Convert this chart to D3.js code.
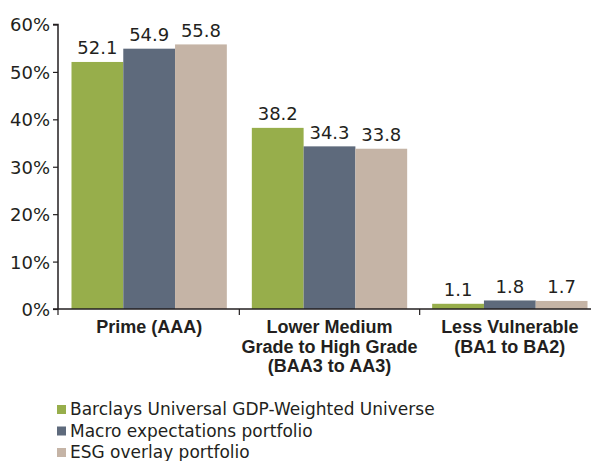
<!DOCTYPE html>
<html><head><meta charset="utf-8">
<script src="https://cdn.jsdelivr.net/npm/d3@7"></script>
<style>
html,body{margin:0;padding:0;background:#fff;}
svg{display:block;}
</style></head>
<body>
<svg id="chart" width="591" height="461"></svg>
<script>
const categories = [["Prime (AAA)"], ["Lower Medium","Grade to High Grade","(BAA3 to AA3)"], ["Less Vulnerable","(BA1 to BA2)"]];
const seriesNames = ["Barclays Universal GDP-Weighted Universe","Macro expectations portfolio","ESG overlay portfolio"];
const barclays = [52.1, 38.2, 1.1];
const macro = [54.9, 34.3, 1.8];
const esg = [55.8, 33.8, 1.7];
const yTicks = [0,10,20,30,40,50,60];
const colors = ["#97ae4b","#5e6a7c","#c5b4a6"];

(function(){
const seriesVals = [barclays, macro, esg];
const svg = d3.select("#chart");
const textColor = "#231f20";
const reg = "'DejaVu Sans', sans-serif";
const bold = "'Liberation Sans', Arial, sans-serif";

const pL = 58, pT = 24.5, pB = 309;
const catKeys = categories.map((c,i)=>i);
const x0 = d3.scaleBand().domain(catKeys).range([59, 600]).padding(0);
const x1 = d3.scaleBand().domain([0,1,2]).range([12.5, x0.bandwidth()-12.5]).padding(0);
const y = d3.scaleLinear().domain([0,60]).range([pB, pT]);

// bars
catKeys.forEach(ci=>{
  const g = svg.append("g").attr("transform",`translate(${x0(ci)},0)`);
  seriesVals.forEach((vals,si)=>{
    g.append("rect").attr("x",x1(si)).attr("y",y(vals[ci]))
      .attr("width",x1.bandwidth()).attr("height",y(0)-y(vals[ci]))
      .attr("fill",colors[si]);
    g.append("text").attr("x",x1(si)+x1.bandwidth()/2).attr("y",y(vals[ci])-7.5)
      .attr("text-anchor","middle").attr("font-family",reg).attr("font-size",18)
      .attr("fill",textColor).text(vals[ci].toFixed(1));
  });
});

// y axis
const yAxis = d3.axisLeft(y).tickValues(yTicks).tickSize(5).tickPadding(3).tickFormat(d=>d+"%");
const ya = svg.append("g").attr("transform",`translate(${pL},0)`).call(yAxis);
ya.select(".domain").attr("stroke","#231f20").attr("stroke-width",1.5).attr("d",`M-5,${pT}H0V${pB}`);
ya.selectAll(".tick line").attr("stroke","#231f20").attr("stroke-width",1.2);
ya.selectAll(".tick text").attr("font-family",reg).attr("font-size",18).attr("fill",textColor).attr("dy","0.36em");

// x axis baseline
svg.append("line").attr("x1",pL-5).attr("x2",591).attr("y1",pB).attr("y2",pB)
  .attr("stroke","#231f20").attr("stroke-width",1.5);
const bounds = [pL].concat(catKeys.slice(1).map(ci=>x0(ci)), [x0(catKeys[catKeys.length-1])+x0.bandwidth()]);
svg.selectAll(".xt").data(bounds).enter().append("line")
  .attr("x1",d=>d).attr("x2",d=>d).attr("y1",pB).attr("y2",pB+6)
  .attr("stroke","#231f20").attr("stroke-width",1.2);

// category labels
catKeys.forEach(ci=>{
  const cx = x0(ci)+x0.bandwidth()/2;
  const t = svg.append("text").attr("x",cx).attr("y",333)
    .attr("text-anchor","middle").attr("font-family",bold).attr("font-weight","bold")
    .attr("font-size",18).attr("fill",textColor);
  categories[ci].forEach((line,li)=>{
    t.append("tspan").attr("x",cx).attr("dy",li===0?0:19.5).text(line);
  });
});

// legend
seriesNames.forEach((name,i)=>{
  const cy = 409 + i*21.5;
  svg.append("rect").attr("x",57).attr("y",cy-4).attr("width",9).attr("height",9).attr("fill",colors[i]);
  svg.append("text").attr("x",70).attr("y",cy+6).attr("font-family",reg).attr("font-size",17)
    .attr("fill",textColor).text(name);
});
})();
</script>
</body></html>
